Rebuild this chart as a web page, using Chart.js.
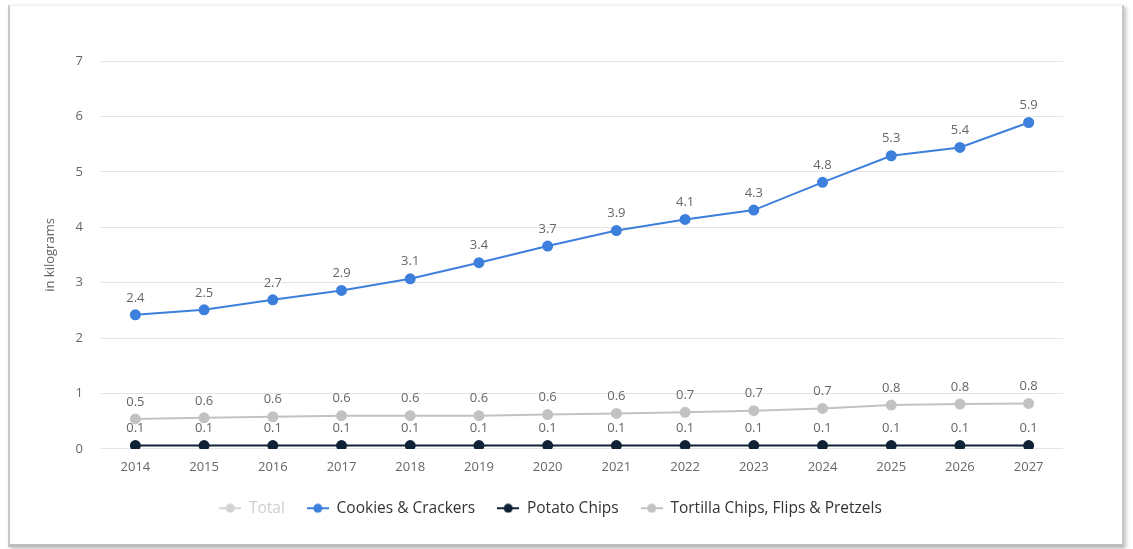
<html lang="en">
<head>
    <meta charSet="UTF-8"/>
    <title>Snack consumption per capita</title>
    <script src="https://cdn.jsdelivr.net/npm/chart.js@4.4.0/dist/chart.umd.min.js"></script>
    <style>
        body { margin: 0; background: #fff; }
        #frame {
            position: absolute; left: 8px; top: 5px; width: 1112px; height: 538px;
            background: #fff;
            border-left: 2px solid #c8c8c8; border-bottom: 3px solid #bdbdbd; border-right: 2px solid #c8c8c8;
            border-top: 1px solid #eee;
            box-shadow: 2px 2px 4px rgba(0,0,0,0.25);
        }
    </style>
</head>
<body>
<div id="frame">
    <canvas id="myChart" width="1112" height="538"></canvas>
</div>
<script>
    const years = ['2014', '2015', '2016', '2017', '2018', '2019', '2020', '2021', '2022', '2023', '2024', '2025', '2026', '2027'];
    const total = [3.0, 3.1, 3.3, 3.5, 3.7, 4.0, 4.3, 4.6, 4.8, 5.0, 5.6, 6.1, 6.3, 6.8];
    const cookies = [2.42, 2.51, 2.69, 2.86, 3.07, 3.36, 3.66, 3.94, 4.14, 4.31, 4.81, 5.29, 5.44, 5.89];
    const potatoChips = [0.06, 0.06, 0.06, 0.06, 0.06, 0.06, 0.06, 0.06, 0.06, 0.06, 0.06, 0.06, 0.06, 0.06];
    const tortilla = [0.54, 0.56, 0.58, 0.6, 0.6, 0.6, 0.62, 0.64, 0.66, 0.69, 0.73, 0.79, 0.81, 0.82];

    const colors = ['#d3d3d3', '#3d7fdc', '#0f2236', '#c2c2c2'];

    // little "-o-" icons for the legend
    function makeIcon(color) {
        const c = document.createElement('canvas');
        c.width = 22; c.height = 10;
        const g = c.getContext('2d');
        g.strokeStyle = color; g.lineWidth = 2;
        g.beginPath(); g.moveTo(0, 5); g.lineTo(22, 5); g.stroke();
        g.fillStyle = color;
        g.beginPath(); g.arc(11, 5, 4.5, 0, Math.PI * 2); g.fill();
        return c;
    }
    const icons = colors.map(makeIcon);

    // draw the value above every point
    const valueLabels = {
        id: 'valueLabels',
        afterDatasetsDraw(chart) {
            const ctx = chart.ctx;
            ctx.save();
            ctx.font = '13px "Open Sans"';
            ctx.fillStyle = '#666';
            ctx.textAlign = 'center';
            ctx.textBaseline = 'middle';
            chart.data.datasets.forEach((ds, i) => {
                if (!chart.isDatasetVisible(i)) return;
                chart.getDatasetMeta(i).data.forEach((pt, j) => {
                    ctx.fillText(ds.data[j].toFixed(1), pt.x, pt.y - 17);
                });
            });
            ctx.restore();
        }
    };

    function series(label, data, color, hidden) {
        return {
            label: label,
            data: data,
            borderColor: color,
            backgroundColor: color,
            pointBackgroundColor: color,
            pointBorderColor: color,
            borderWidth: 2,
            pointRadius: 4.5,
            hidden: hidden,
            tension: 0
        };
    }

    Chart.defaults.font.family = '"Open Sans", sans-serif';
    Chart.defaults.color = '#666';

    const ctx = document.getElementById('myChart').getContext('2d');
    new Chart(ctx, {
        type: 'line',
        data: {
            labels: years,
            datasets: [
                series('Total', total, colors[0], true),
                series('Cookies & Crackers', cookies, colors[1], false),
                series('Potato Chips', potatoChips, colors[2], false),
                series('Tortilla Chips, Flips & Pretzels', tortilla, colors[3], false)
            ]
        },
        options: {
            responsive: false,
            animation: false,
            layout: {
                padding: { left: 28, right: 59, top: 55, bottom: 18 }
            },
            plugins: {
                tooltip: { enabled: false },
                legend: {
                    position: 'bottom',
                    labels: {
                        usePointStyle: true,
                        pointStyleWidth: 22,
                        padding: 22,
                        color: '#333',
                        font: { size: 15.5 },
                        generateLabels(chart) {
                            const items = Chart.defaults.plugins.legend.labels.generateLabels(chart);
                            items.forEach(it => {
                                it.pointStyle = icons[it.datasetIndex];
                                if (it.hidden) {
                                    it.fontColor = '#cfcfcf';
                                    it.hidden = false;
                                }
                            });
                            return items;
                        }
                    }
                }
            },
            scales: {
                x: {
                    offset: true,
                    grid: { display: false },
                    border: { display: false },
                    ticks: { font: { size: 13 }, padding: 3 }
                },
                y: {
                    min: 0,
                    max: 7,
                    ticks: { stepSize: 1, font: { size: 13 }, padding: 18 },
                    grid: { color: '#e5e5e5', drawTicks: false },
                    border: { display: false },
                    title: {
                        display: true,
                        text: 'in kilograms',
                        font: { size: 13 },
                        padding: { top: 4, bottom: 0 }
                    }
                }
            }
        },
        plugins: [valueLabels]
    });
</script>
</body>
</html>
